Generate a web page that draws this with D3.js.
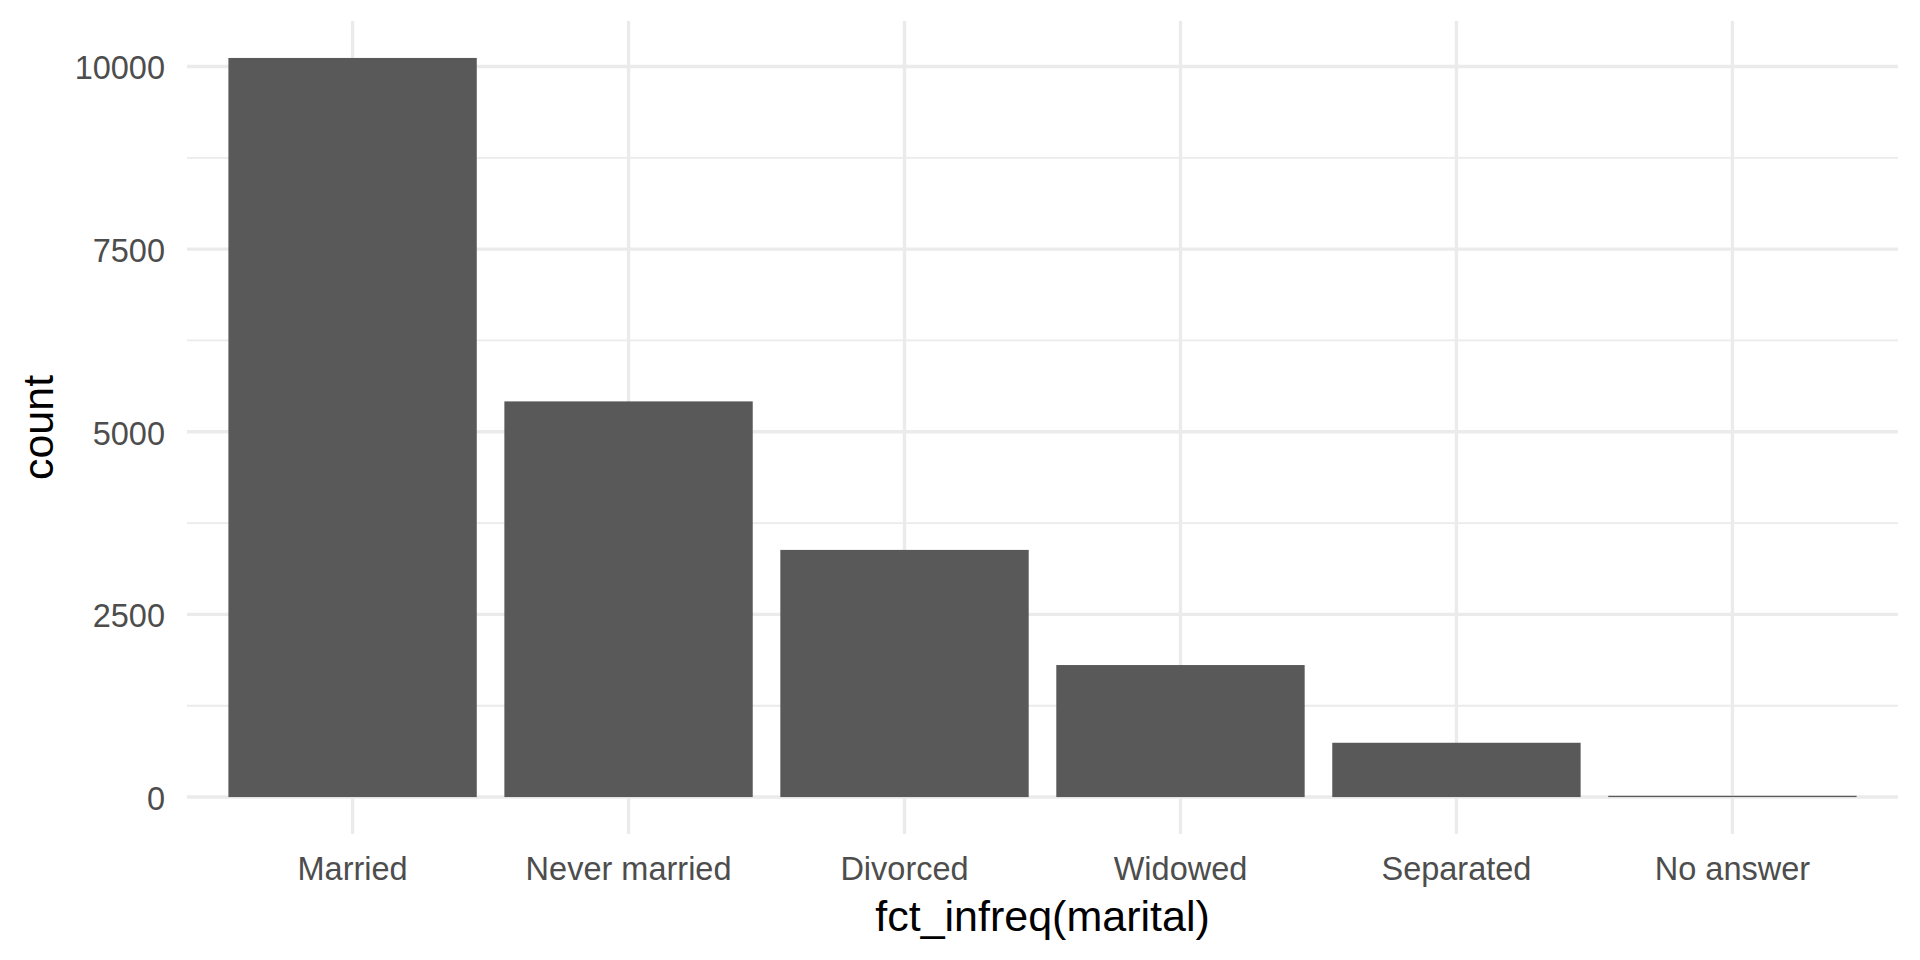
<!DOCTYPE html>
<html>
<head>
<meta charset="utf-8">
<script src="https://cdn.jsdelivr.net/npm/d3@7"></script>
<style>
  body { margin: 0; background: #ffffff; }
  svg { display: block; font-family: "Liberation Sans", Arial, sans-serif; }
</style>
</head>
<body>
<svg></svg>
<script>
// gss_cat marital status counts
const categories = ["Married", "Never married", "Divorced", "Widowed", "Separated", "No answer"];
const counts = [10117, 5416, 3383, 1807, 743, 17];
const yTicks = [0, 2500, 5000, 7500, 10000];
const yMinorTicks = [1250, 3750, 6250, 8750];

const width = 1920;
const height = 960;

// panel box (ggplot panel area)
const panelLeft = 187;
const panelRight = 1898;
const panelTop = 21;
const panelBottom = 834;

const svg = d3.select("svg").attr("width", width).attr("height", height);

let xScale; // band scale for the bars
let yScale; // count scale

let generateScales = () => {
  xScale = d3
    .scaleBand()
    .domain(categories)
    .range([panelLeft, panelRight])
    .paddingInner(0.1)
    .paddingOuter(0.15);

  let yMax = d3.max(counts);
  let pad = yMax * 0.05;
  yScale = d3
    .scaleLinear()
    .domain([-pad, yMax + pad])
    .range([panelBottom, panelTop]);
};

let generateGrid = () => {
  let grid = svg.append("g").attr("class", "grid");

  grid
    .selectAll("line.minor")
    .data(yMinorTicks)
    .enter()
    .append("line")
    .attr("class", "minor")
    .attr("x1", panelLeft)
    .attr("x2", panelRight)
    .attr("y1", (d) => yScale(d))
    .attr("y2", (d) => yScale(d))
    .attr("stroke", "#EBEBEB")
    .attr("stroke-width", 1.8);

  grid
    .selectAll("line.major-y")
    .data(yTicks)
    .enter()
    .append("line")
    .attr("class", "major-y")
    .attr("x1", panelLeft)
    .attr("x2", panelRight)
    .attr("y1", (d) => yScale(d))
    .attr("y2", (d) => yScale(d))
    .attr("stroke", "#EBEBEB")
    .attr("stroke-width", 3.4);

  grid
    .selectAll("line.major-x")
    .data(categories)
    .enter()
    .append("line")
    .attr("class", "major-x")
    .attr("x1", (d) => xScale(d) + xScale.bandwidth() / 2)
    .attr("x2", (d) => xScale(d) + xScale.bandwidth() / 2)
    .attr("y1", panelTop)
    .attr("y2", panelBottom)
    .attr("stroke", "#EBEBEB")
    .attr("stroke-width", 3.4);
};

let generateBars = () => {
  svg
    .append("g")
    .selectAll("rect")
    .data(categories)
    .enter()
    .append("rect")
    .attr("class", "bar")
    .attr("fill", "#595959")
    .attr("x", (d) => xScale(d))
    .attr("width", xScale.bandwidth())
    .attr("y", (d, i) => yScale(counts[i]))
    .attr("height", (d, i) => yScale(0) - yScale(counts[i]));
};

let generateAxes = () => {
  let yAxis = d3
    .axisLeft(yScale)
    .tickValues(yTicks)
    .tickFormat(d3.format("d"))
    .tickSize(0)
    .tickPadding(22);
  let xAxis = d3.axisBottom(xScale).tickSize(0).tickPadding(23);

  let gy = svg
    .append("g")
    .attr("id", "y-axis")
    .attr("transform", "translate(" + panelLeft + ", 0)")
    .call(yAxis);
  gy.select(".domain").remove();
  gy.selectAll("text")
    .attr("dy", "0.38em")
    .attr("fill", "#4D4D4D")
    .style("font-size", "32.5px")
    .style("font-family", "'Liberation Sans', Arial, sans-serif");

  let gx = svg
    .append("g")
    .attr("id", "x-axis")
    .attr("transform", "translate(0, " + panelBottom + ")")
    .call(xAxis);
  gx.select(".domain").remove();
  gx.selectAll("text")
    .attr("fill", "#4D4D4D")
    .style("font-size", "32.5px")
    .style("font-family", "'Liberation Sans', Arial, sans-serif");

  // axis titles
  svg
    .append("text")
    .attr("x", (panelLeft + panelRight) / 2)
    .attr("y", 931)
    .attr("text-anchor", "middle")
    .attr("fill", "#000000")
    .style("font-size", "43px")
    .text("fct_infreq(marital)");

  svg
    .append("text")
    .attr("transform", "translate(53, " + (panelTop + panelBottom) / 2 + ") rotate(-90)")
    .attr("text-anchor", "middle")
    .attr("fill", "#000000")
    .style("font-size", "43px")
    .text("count");
};

generateScales();
generateGrid();
generateBars();
generateAxes();
</script>
</body>
</html>
